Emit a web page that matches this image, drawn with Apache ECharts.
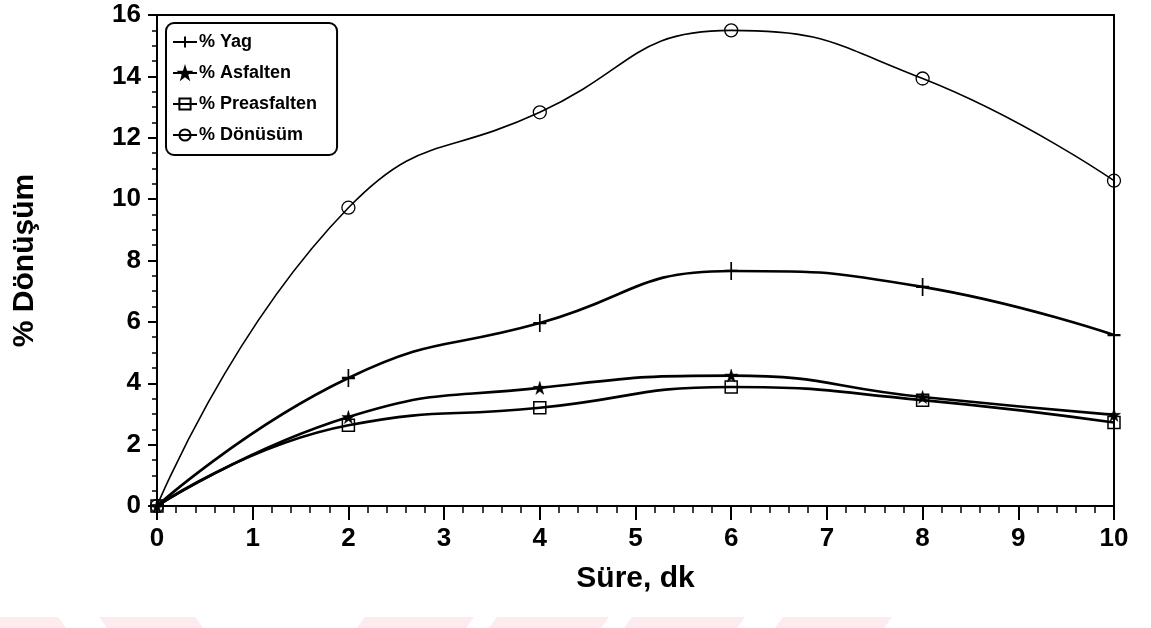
<!DOCTYPE html>
<html>
<head>
<meta charset="utf-8">
<script src="https://cdn.jsdelivr.net/npm/echarts@6/dist/echarts.min.js"></script>
<style>
  html, body { margin: 0; padding: 0; background: #fff; }
  #chart { width: 1151px; height: 628px; }
</style>
</head>
<body>
<div id="chart"></div>
<script>
// Reaction time (minutes) and conversion percentages
var sure = [0, 2, 4, 6, 8, 10];
var yag = [0, 4.17, 5.96, 7.66, 7.14, 5.57];
var asfalten = [0, 2.9, 3.85, 4.25, 3.55, 2.97];
var preasfalten = [0, 2.63, 3.2, 3.88, 3.45, 2.72];
var donusum = [0, 9.72, 12.83, 15.5, 13.93, 10.6];

var seriesNames = ['% Yag', '% Asfalten', '% Preasfalten', '% Dönüsüm'];
var xTicks = [0, 1, 2, 3, 4, 5, 6, 7, 8, 9, 10];
var yTicks = [0, 2, 4, 6, 8, 10, 12, 14, 16];

var FONT = "'Liberation Sans', Arial, Helvetica, sans-serif";

function pairs(values) {
  return sure.map(function (t, i) { return [t, values[i]]; });
}

var plusPath = 'path://M5,0L5,10M0,5L10,5';
var starPath = 'path://M50,0L61,35L98,35L68,57L79,91L50,70L21,91L32,57L2,35L39,35Z';

var chart = echarts.init(document.getElementById('chart'), null, { renderer: 'canvas' });

// faint pink band shapes along the bottom edge
var band = [
  [[0, 617], [58, 617], [66, 628], [0, 628]],
  [[99, 617], [195, 617], [203, 628], [107, 628]],
  [[365, 617], [474, 617], [466, 628], [357, 628]],
  [[497, 617], [609, 617], [601, 628], [489, 628]],
  [[632, 617], [745, 617], [737, 628], [624, 628]],
  [[783, 617], [892, 617], [884, 628], [775, 628]]
];

var option = {
  backgroundColor: '#ffffff',
  animation: false,
  graphic: band.map(function (pts) {
    return {
      type: 'polygon',
      z: -10,
      silent: true,
      shape: { points: pts },
      style: { fill: '#fdebee' }
    };
  }),
  grid: {
    left: 157, right: 37, top: 15, bottom: 122,
    show: true, borderColor: '#000', borderWidth: 2
  },
  legend: {
    left: 166, top: 23,
    orient: 'vertical',
    data: seriesNames,
    backgroundColor: '#fff',
    borderColor: '#000', borderWidth: 2, borderRadius: 8,
    padding: [10, 20, 11, 6],
    itemGap: 13,
    itemWidth: 24, itemHeight: 14,
    textStyle: { fontFamily: FONT, fontSize: 18, fontWeight: 'bold', color: '#000', padding: [0, 0, 0, -3] }
  },
  xAxis: {
    type: 'value', min: 0, max: 10, interval: 1,
    name: 'Süre, dk', nameLocation: 'middle', nameGap: 58,
    nameTextStyle: { fontFamily: FONT, fontSize: 30, fontWeight: 'bold', color: '#000' },
    axisLine: { show: true, onZero: false, lineStyle: { color: '#000', width: 2 } },
    axisTick: { show: true, inside: false, length: 14, lineStyle: { color: '#000', width: 2 } },
    minorTick: { show: true, splitNumber: 5, length: 7, lineStyle: { color: '#000', width: 1.5 } },
    splitLine: { show: false },
    axisLabel: {
      fontFamily: FONT, fontSize: 26, fontWeight: 'bold', color: '#000', margin: 20,
      formatter: function (v) { return xTicks.indexOf(v) >= 0 ? String(v) : ''; }
    }
  },
  yAxis: {
    type: 'value', min: 0, max: 16, interval: 2,
    name: '% Dönüşüm', nameLocation: 'middle', nameGap: 117,
    nameTextStyle: { fontFamily: FONT, fontSize: 30, fontWeight: 'bold', color: '#000' },
    axisLine: { show: true, onZero: false, lineStyle: { color: '#000', width: 2 } },
    axisTick: { show: true, inside: false, length: 9, lineStyle: { color: '#000', width: 2 } },
    minorTick: { show: true, splitNumber: 4, length: 5, lineStyle: { color: '#000', width: 1.5 } },
    splitLine: { show: false },
    axisLabel: {
      fontFamily: FONT, fontSize: 26, fontWeight: 'bold', color: '#000', margin: 16,
      formatter: function (v) { return yTicks.indexOf(v) >= 0 ? String(v) : ''; }
    }
  },
  series: [
    {
      name: seriesNames[0], type: 'line', smooth: 0.5,
      data: pairs(yag),
      symbol: plusPath, symbolSize: [13, 18],
      lineStyle: { color: '#000', width: 2.6 },
      itemStyle: { color: '#000', borderColor: '#000', borderWidth: 2 }
    },
    {
      name: seriesNames[1], type: 'line', smooth: 0.5,
      data: pairs(asfalten),
      symbol: starPath, symbolSize: 13,
      lineStyle: { color: '#000', width: 2.6 },
      itemStyle: { color: '#000', borderColor: '#000', borderWidth: 0.5 }
    },
    {
      name: seriesNames[2], type: 'line', smooth: 0.5,
      data: pairs(preasfalten),
      symbol: 'rect', symbolSize: 12,
      lineStyle: { color: '#000', width: 2.6 },
      itemStyle: { color: 'rgba(255,255,255,0)', borderColor: '#000', borderWidth: 1.5 }
    },
    {
      name: seriesNames[3], type: 'line', smooth: 0.5,
      data: pairs(donusum),
      symbol: 'circle', symbolSize: 13,
      lineStyle: { color: '#000', width: 1.6 },
      itemStyle: { color: 'rgba(255,255,255,0)', borderColor: '#000', borderWidth: 1.3 }
    }
  ]
};

chart.setOption(option);
</script>
</body>
</html>
